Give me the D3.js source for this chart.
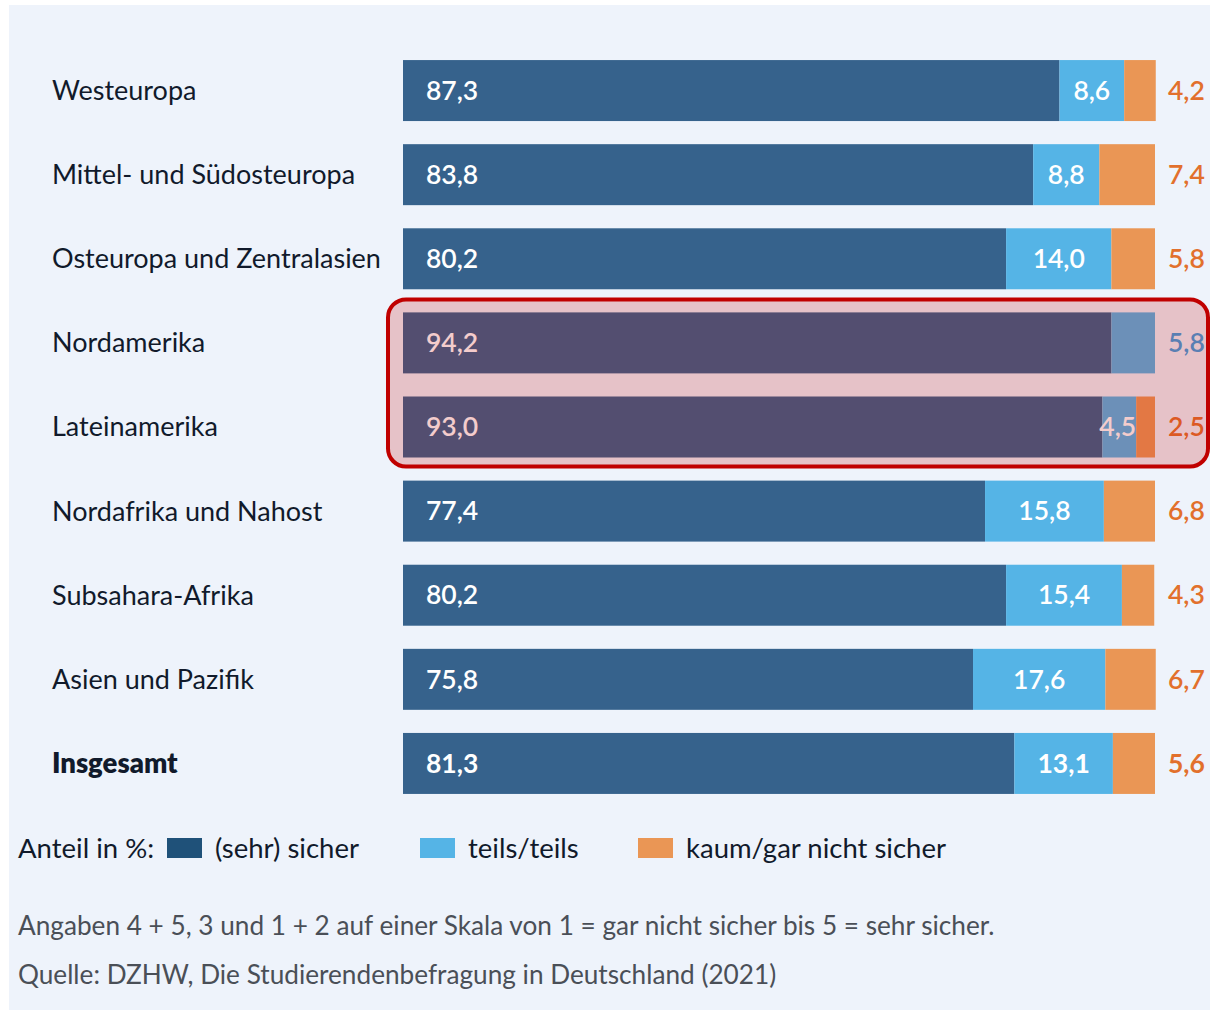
<!DOCTYPE html>
<html>
<head>
<meta charset="utf-8">
<script src="https://cdn.jsdelivr.net/npm/d3@7"></script>
<style>
  html, body { margin: 0; padding: 0; background: #ffffff; }
  svg { display: block; }
  text { font-family: "Source Sans Pro", Lato, "Open Sans", sans-serif; }
</style>
</head>
<body>
<svg id="chart" width="1210" height="1012"></svg>
<script>
const categories = ["Westeuropa", "Mittel- und Südosteuropa", "Osteuropa und Zentralasien", "Nordamerika", "Lateinamerika", "Nordafrika und Nahost", "Subsahara-Afrika", "Asien und Pazifik", "Insgesamt"];
const sicher = [87.3, 83.8, 80.2, 94.2, 93.0, 77.4, 80.2, 75.8, 81.3];
const teils = [8.6, 8.8, 14.0, 5.8, 4.5, 15.8, 15.4, 17.6, 13.1];
const kaum = [4.2, 7.4, 5.8, 0, 2.5, 6.8, 4.3, 6.7, 5.6];
const seriesNames = ["(sehr) sicher", "teils/teils", "kaum/gar nicht sicher"];
const highlighted = ["Nordamerika", "Lateinamerika"];
const legendTitle = "Anteil in %:";
const noteLines = ["Angaben 4 + 5, 3 und 1 + 2 auf einer Skala von 1 = gar nicht sicher bis 5 = sehr sicher.", "Quelle: DZHW, Die Studierendenbefragung in Deutschland (2021)"];

const colors = ["#36628c", "#55b4e6", "#ea9655"];
const fmt = v => d3.format(".1f")(v).replace(".", ",");

const svg = d3.select("#chart");
svg.append("rect").attr("x", 9).attr("y", 5).attr("width", 1201).attr("height", 1005).attr("fill", "#eef3fb");

const x = d3.scaleLinear().domain([0, 100]).range([403, 1155]);
const y = d3.scaleBand().domain(categories).range([48.5, 805.5]).paddingInner(0.275).paddingOuter(0.1375);

const rows = categories.map((c, i) => ({ c, vals: [sicher[i], teils[i], kaum[i]] }));

const g = svg.append("g");
rows.forEach(r => {
  let acc = 0;
  const bold = r.c === "Insgesamt";
  g.append("text").attr("x", 52).attr("y", y(r.c) + y.bandwidth() / 2).attr("dy", "0.35em")
    .attr("font-size", bold ? 27.5 : 27).attr("fill", "#111a2b").attr("font-weight", bold ? 800 : 400).text(r.c);
  r.vals.forEach((v, k) => {
    if (v <= 0) return;
    g.append("rect").attr("x", x(acc)).attr("y", y(r.c)).attr("width", x(acc + v) - x(acc)).attr("height", y.bandwidth())
      .attr("fill", colors[k]);
    acc += v;
  });
  const cy = y(r.c) + y.bandwidth() / 2;
  g.append("text").attr("x", x(0) + 23).attr("y", cy).attr("dy", "0.35em").attr("font-size", 26.5)
    .attr("font-weight", bold ? 700 : 600).attr("fill", "#ffffff").text(fmt(r.vals[0]));
  const lastIdx = r.vals[2] > 0 ? 2 : 1;
  if (lastIdx === 2) {
    const s = r.vals[0], t = r.vals[1];
    const small = t < 6;
    g.append("text").attr("x", small ? x(s + t) : x(s + t / 2)).attr("y", cy).attr("dy", "0.35em").attr("font-size", 26.5)
      .attr("text-anchor", small ? "end" : "middle")
      .attr("font-weight", bold ? 700 : 600).attr("fill", "#ffffff").text(fmt(t));
  }
  g.append("text").attr("x", x(100) + 13).attr("y", cy).attr("dy", "0.35em").attr("font-size", 26.5)
    .attr("font-weight", bold ? 700 : 600).attr("fill", lastIdx === 2 ? "#e2702c" : "#3f9fe0").text(fmt(r.vals[lastIdx]));
});

// highlight overlay
const hTop = y(highlighted[0]) - 13;
const hBot = y(highlighted[1]) + y.bandwidth() + 9;
svg.append("rect").attr("x", 388).attr("y", hTop).attr("width", 820).attr("height", hBot - hTop)
  .attr("rx", 18).attr("fill", "rgba(200,0,0,0.2)").attr("stroke", "#c00000").attr("stroke-width", 4);

// legend
const ly = 848;
const lg = svg.append("g");
lg.append("text").attr("x", 18).attr("y", ly).attr("dy", "0.35em").attr("font-size", 27.5).attr("fill", "#111a2b").text(legendTitle);
const legendX = [167, 420, 638];
seriesNames.forEach((n, k) => {
  lg.append("rect").attr("x", legendX[k]).attr("y", ly - 10).attr("width", 35).attr("height", 20).attr("fill", k === 0 ? "#1f5179" : colors[k]);
  lg.append("text").attr("x", legendX[k] + 48).attr("y", ly).attr("dy", "0.35em").attr("font-size", 27.5).attr("fill", "#111a2b").text(n);
});

// notes
noteLines.forEach((t, i) => {
  svg.append("text").attr("x", 18).attr("y", 926 + i * 49).attr("dy", "0.35em").attr("font-size", 26.2).attr("fill", "#4a4f57").text(t);
});
</script>
</body>
</html>
